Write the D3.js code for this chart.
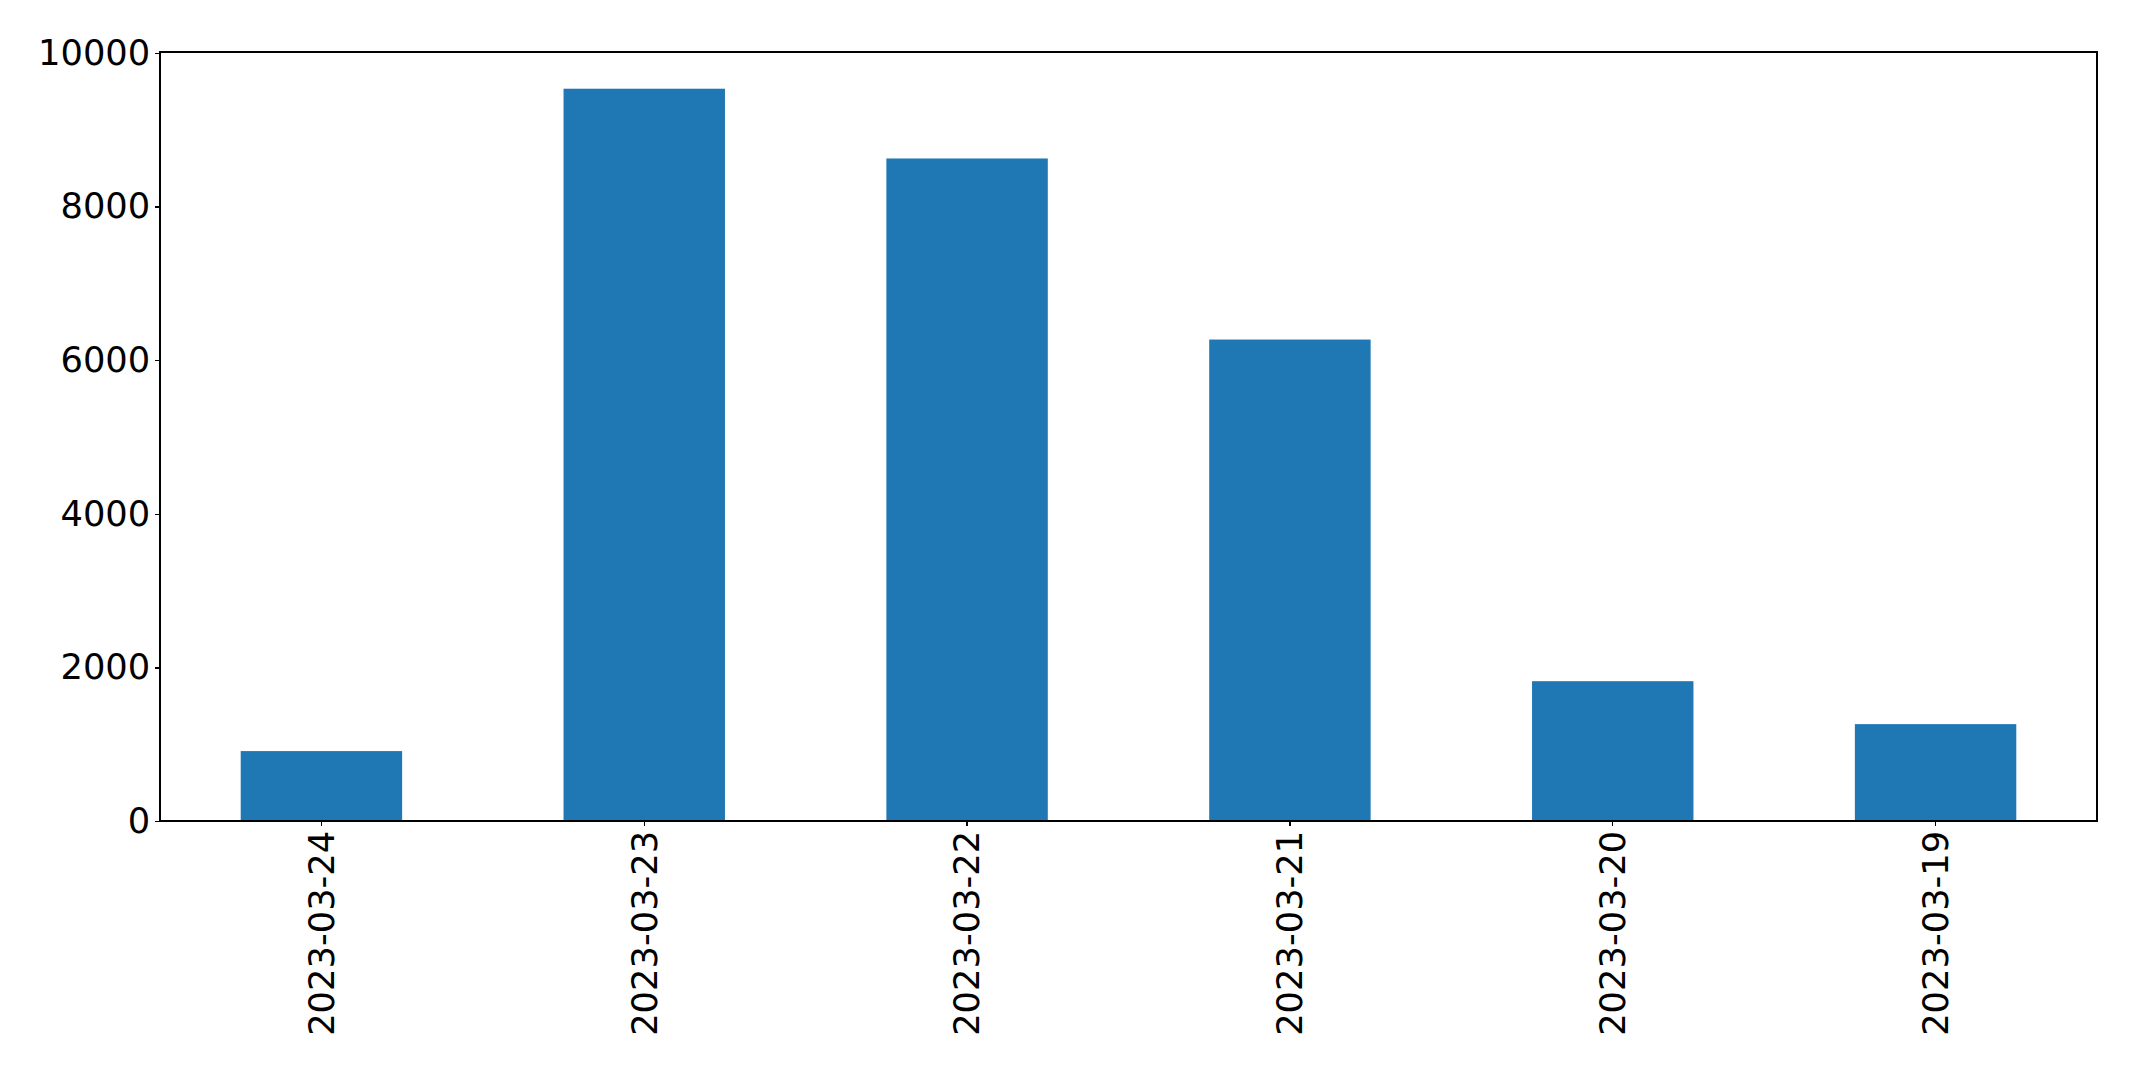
<!DOCTYPE html>
<html>
<head>
<meta charset="utf-8">
<script src="https://cdn.jsdelivr.net/npm/d3@7"></script>
<style>
  html, body { margin: 0; padding: 0; background: #ffffff; }
  svg { display: block; }
  text { font-family: "DejaVu Sans", sans-serif; }
</style>
</head>
<body>
<script>
const categories = ["2023-03-24", "2023-03-23", "2023-03-22", "2023-03-21", "2023-03-20", "2023-03-19"];
const values = [910, 9532, 8624, 6267, 1820, 1261];
const yTicks = [0, 2000, 4000, 6000, 8000, 10000];
const yMax = 10010;

(function () {
const W = 2137, H = 1073;
const mLeft = 160, mRight = 2097, mTop = 52, mBottom = 821;
const fontPx = 35.3;
const barColor = "#1f77b4";

const svg = d3.select("body").append("svg").attr("width", W).attr("height", H);

const x = d3.scaleBand().domain(categories).range([mLeft, mRight]).paddingInner(0.5).paddingOuter(0.25);
const y = d3.scaleLinear().domain([0, yMax]).range([mBottom, mTop]);

svg.append("g").selectAll("rect").data(values).join("rect")
  .attr("x", (d, i) => x(categories[i]))
  .attr("width", x.bandwidth())
  .attr("y", d => y(d))
  .attr("height", d => y(0) - y(d))
  .attr("fill", barColor);

// Y axis
const yAxis = svg.append("g").attr("transform", `translate(${mLeft},0)`)
  .call(d3.axisLeft(y).tickValues(yTicks).tickFormat(d3.format("d")).tickSize(4.86).tickPadding(4.86));
yAxis.select(".domain").remove();
yAxis.selectAll("line").attr("stroke", "#000").attr("stroke-width", 1.3).attr("shape-rendering", "crispEdges");
yAxis.selectAll("text").attr("font-size", fontPx).attr("fill", "#000").attr("font-family", "DejaVu Sans");

// X axis
const xAxis = svg.append("g").attr("transform", `translate(0,${mBottom})`)
  .call(d3.axisBottom(x).tickSize(4.86).tickPadding(4.86));
xAxis.select(".domain").remove();
xAxis.selectAll("line").attr("stroke", "#000").attr("stroke-width", 1.3).attr("shape-rendering", "crispEdges");
xAxis.selectAll("text")
  .attr("font-size", fontPx).attr("fill", "#000").attr("font-family", "DejaVu Sans")
  .attr("transform", "rotate(-90)")
  .attr("text-anchor", "end")
  .attr("dy", "0.35em")
  .attr("x", -(4.86 + 4.86))
  .attr("y", 0);

// Frame (spines)
svg.append("rect")
  .attr("x", mLeft).attr("y", mTop)
  .attr("width", mRight - mLeft).attr("height", mBottom - mTop)
  .attr("fill", "none").attr("stroke", "#000").attr("stroke-width", 1.3)
  .attr("shape-rendering", "crispEdges");
})();
</script>
</body>
</html>
